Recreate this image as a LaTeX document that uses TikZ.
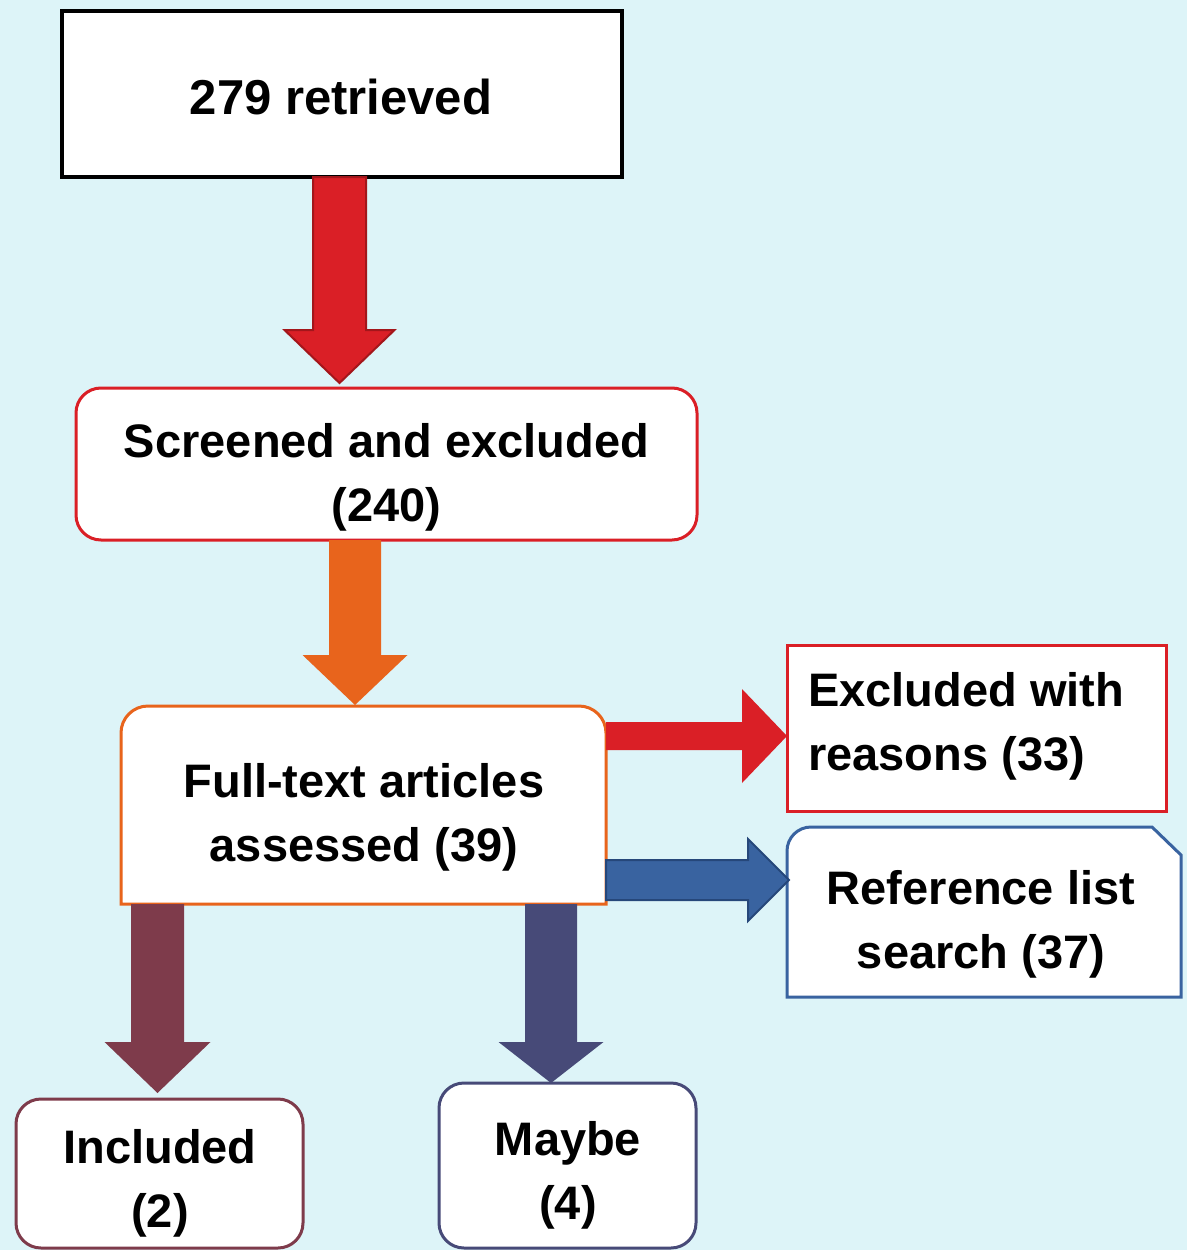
\documentclass[tikz,border=0pt]{standalone}
\usepackage{fontspec}
\setmainfont{Liberation Sans}
\usetikzlibrary{calc}
\definecolor{bgc}{HTML}{DDF4F8}
\definecolor{cred}{HTML}{DA1F26}
\definecolor{credd}{HTML}{A3161B}
\definecolor{cora}{HTML}{E8641C}
\definecolor{cblue}{HTML}{3963A0}
\definecolor{cblued}{HTML}{26477A}
\definecolor{cmar}{HTML}{7E3B4B}
\definecolor{cnavy}{HTML}{474A78}
\tikzset{
  box/.style={draw, fill=white, line width=3pt, inner sep=0pt, outer sep=0pt},
  shapebox/.style={inner sep=0pt, outer sep=0pt},
  txt/.style={font=\bfseries\fontsize{47}{64}\selectfont, align=center, inner sep=0pt},
}
\newcommand\blkdown[6]{% start, tip, half shaft, half head, head length, style
  \path[#6] let \p1=(#1), \p2=(#2) in
    (\x2-#3pt,\y1) -- (\x2+#3pt,\y1) -- (\x2+#3pt,\y2+#5pt) -- (\x2+#4pt,\y2+#5pt)
    -- (\x2,\y2) -- (\x2-#4pt,\y2+#5pt) -- (\x2-#3pt,\y2+#5pt) -- cycle;}
\newcommand\blkright[6]{%
  \path[#6] let \p1=(#1), \p2=(#2) in
    (\x1,\y2+#3pt) -- (\x2-#5pt,\y2+#3pt) -- (\x2-#5pt,\y2+#4pt) -- (\x2,\y2)
    -- (\x2-#5pt,\y2-#4pt) -- (\x2-#5pt,\y2-#3pt) -- (\x1,\y2-#3pt) -- cycle;}
\begin{document}
\begin{tikzpicture}[x=1pt,y=-1pt]
\useasboundingbox (0,0) rectangle (1187,1250);
\fill[bgc] (0,0) rectangle (1187,1250);

% boxes
\node[box, draw=black, line width=3.5pt, minimum width=560pt, minimum height=166pt] (b1) at (342,94) {};
\node[box, draw=cred, rounded corners=25pt, minimum width=621pt, minimum height=152pt] (b2) at (386.5,464) {};
\node[shapebox, minimum width=485pt, minimum height=198pt] (b3) at (363.5,805) {};
\draw[fill=white, draw=cora, line width=3pt]
  (b3.south west) -- ($(b3.north west)+(0pt,-27pt)$) arc[start angle=180,end angle=90,radius=27pt]
  -- ($(b3.north east)+(-27pt,0pt)$) arc[start angle=90,end angle=0,radius=27pt]
  -- (b3.south east) -- cycle;
\node[box, draw=cred, minimum width=379pt, minimum height=166pt] (b4) at (976.5,728) {};
\node[shapebox, minimum width=394pt, minimum height=170pt] (b5) at (984,912) {};
\draw[fill=white, draw=cblue, line width=3pt]
  (b5.south west) -- ($(b5.north west)+(0pt,-24pt)$) arc[start angle=180,end angle=90,radius=24pt]
  -- ($(b5.north east)+(-29pt,0pt)$) -- ($(b5.north east)+(0pt,-28pt)$)
  -- (b5.south east) -- cycle;
\node[box, draw=cmar, rounded corners=25pt, minimum width=287pt, minimum height=149pt] (b6) at (159.5,1173.5) {};
\node[box, draw=cnavy, rounded corners=25pt, minimum width=257pt, minimum height=165pt] (b7) at (567.5,1165.5) {};

% texts
\node[txt, font=\bfseries\fontsize{49}{64}\selectfont] (t1) at (341,97) {279 retrieved};
\node[txt] (t2) at (386.5,477) {Screened and excluded\\(240)};
\node[txt] (t3) at (364,817) {Full-text articles\\assessed (39)};
\node[txt, align=left, anchor=west] (t4) at (808,726) {Excluded with\\reasons (33)};
\node[txt] (t5) at (981,924) {Reference list\\search (37)};
\node[txt] (t6) at (160,1183) {Included\\(2)};
\node[txt] (t7) at (568,1175) {Maybe\\(4)};

% arrow tips
\coordinate (tip1) at (339.5,383);
\coordinate (tip2) at (355,705);
\coordinate (tip3) at (787,736);
\coordinate (tip4) at (789,880);
\coordinate (tip5) at (157.5,1093);
\coordinate (tip6) at (551,1083);

% arrows
\blkdown{b1.south}{tip1}{26.5}{55}{53}{fill=cred, draw=credd, line width=2pt, line join=miter}
\blkdown{b2.south}{tip2}{26}{52.5}{50}{fill=cora}
\blkright{b3.east}{tip3}{14}{47}{45}{fill=cred}
\blkright{b3.east}{tip4}{20}{41}{41}{fill=cblue, draw=cblued, line width=2pt}
\blkdown{b3.south}{tip5}{26.5}{53}{51}{fill=cmar}
\blkdown{b3.south}{tip6}{26}{52.5}{41}{fill=cnavy}
\end{tikzpicture}
\end{document}
